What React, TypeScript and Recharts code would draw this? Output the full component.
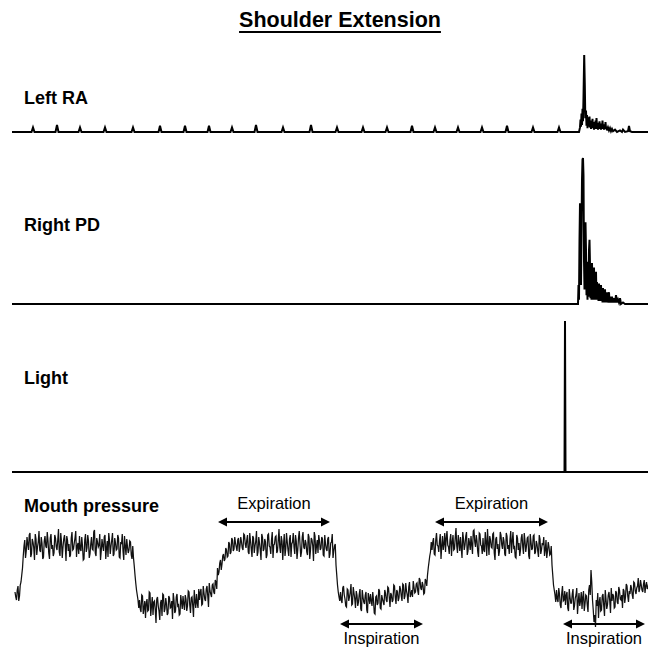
import React from 'react';
import { LineChart, Line, XAxis, YAxis, ReferenceLine } from 'recharts';

const FONT = "'Liberation Sans', Arial, sans-serif";
const TIME_END = 63.6;

// ---- Left RA (EMG, % of peak) ----
const leftRaSpikeTimes = [2.1, 4.5, 6.8, 9.3, 12.1, 14.8, 17.3, 19.7, 22.0, 24.4, 27.1, 29.9, 32.5, 35.1, 37.5, 40.0, 42.3, 44.6, 47.0, 49.5, 52.1, 54.7];
const leftRaSpikeHeights = [6, 9, 6, 6, 6, 8, 8, 8, 6, 9, 6, 9, 6, 6, 6, 8, 6, 6, 6, 8, 6, 6];
const leftRaBurst: [number, number][] = [
  [56.7, 0], [56.8, 6], [56.85, 16], [56.9, 7], [56.95, 24], [57.0, 9], [57.05, 30], [57.1, 14], [57.15, 45], [57.22, 100],
  [57.28, 62], [57.33, 18], [57.4, 28], [57.45, 8], [57.5, 22], [57.55, 5], [57.6, 19], [57.65, 7],
  [57.75, 20], [57.8, 6], [57.85, 15], [57.9, 4], [57.95, 12], [58.0, 5], [58.05, 17], [58.1, 6], [58.15, 13], [58.2, 3],
  [58.25, 11], [58.3, 5], [58.35, 15], [58.4, 4], [58.45, 18], [58.5, 6], [58.55, 12], [58.6, 3], [58.65, 10], [58.7, 4],
  [58.75, 14], [58.8, 5], [58.85, 11], [58.9, 3], [58.95, 9], [59.0, 4], [59.05, 15], [59.1, 5], [59.15, 10], [59.2, 3],
  [59.25, 8], [59.3, 4], [59.35, 13], [59.4, 4], [59.45, 7], [59.5, 2], [59.6, 6], [59.7, 2], [59.8, 5], [59.9, 1],
  [60.0, 4], [60.1, 1], [60.3, 3], [60.5, 0], [60.8, 2], [61.0, 0], [61.1, 3], [61.3, 0], [61.6, 1], [61.7, 8],
  [61.8, 1], [62.0, 0],
];

// ---- Right PD (EMG, % of peak) ----
const rightPdBurst: [number, number][] = [
  [56.6, 0], [56.65, 13], [56.7, 3], [56.75, 44], [56.8, 69], [56.85, 23], [56.9, 13], [56.95, 51], [57.0, 85], [57.05, 99],
  [57.1, 100], [57.15, 88], [57.2, 30], [57.25, 10], [57.3, 44], [57.35, 56], [57.4, 37], [57.45, 6], [57.5, 23], [57.55, 3],
  [57.6, 29], [57.65, 5], [57.7, 37], [57.75, 44], [57.8, 27], [57.85, 4], [57.9, 20], [57.95, 3], [58.0, 28], [58.05, 8],
  [58.1, 23], [58.15, 3], [58.2, 25], [58.25, 5], [58.3, 16], [58.35, 3], [58.4, 22], [58.45, 4], [58.5, 15], [58.55, 3],
  [58.6, 13], [58.65, 2], [58.7, 14], [58.75, 3], [58.8, 11], [58.85, 2], [58.9, 13], [58.95, 3], [59.0, 10], [59.05, 1],
  [59.1, 11], [59.15, 2], [59.2, 8], [59.25, 1], [59.3, 10], [59.35, 1], [59.4, 7], [59.45, 1], [59.5, 8], [59.55, 1],
  [59.6, 5], [59.7, 8], [59.75, 1], [59.8, 5], [59.9, 1], [60.0, 5], [60.1, 1], [60.2, 4], [60.3, 1], [60.4, 6],
  [60.5, 1], [60.6, 3], [60.7, 1], [60.8, 4], [60.9, 0], [61.1, 1], [61.3, 0],
];

// ---- Light (trigger) ----
const lightTimes = [0, 55.25, 55.3, 55.35, TIME_END];
const lightValues = [0, 0, 100, 0, 0];

// ---- Mouth pressure: samples every 0.15 s, plus the mid samples between them ----
const MOUTH_DT = 0.15;
const mouthOnset = [38, 30, 44, 34, 48, 62];
const mouthOnsetMid = [33, 40, 29, 45, 55, 74];
const mouthExp1 = [
  84, 72, 93, 80, 97, 76, 88, 70, 91, 83,
  99, 78, 87, 73, 94, 82, 89, 71, 96, 85,
  77, 92, 80, 101, 74, 88, 83, 95, 69, 90,
  86, 75, 98, 81, 92, 73, 87, 94, 79, 84,
  71, 96, 82, 89, 76, 93, 80, 100, 74, 88,
  85, 70, 91, 79, 95, 82, 73, 89, 84, 97,
  76, 87, 81, 92, 72, 86, 79, 94, 75, 83,
  80, 88, 71,
];
const mouthExp1Mid = [
  90, 79, 86, 95, 73, 91, 82, 96, 75, 88,
  80, 93, 71, 89, 84, 98, 77, 92, 81, 74,
  95, 83, 90, 78, 97, 72, 91, 85, 94, 79,
  73, 92, 80, 87, 99, 84, 76, 81, 93, 70,
  90, 78, 95, 72, 86, 81, 98, 77, 92, 83,
  96, 79, 84, 93, 71, 89, 97, 76, 90, 74,
  92, 80, 95, 73, 88, 96, 70, 84, 91, 77,
  89, 75, 84,
];
const mouthDrop1 = [72, 55, 40, 30];
const mouthDrop1Mid = [64, 47, 35, 22];
const mouthInsp1 = [
  30, 18, 34, 22, 12, 31, 20, 37, 24, 15,
  29, 7, 33, 19, 27, 14, 35, 21, 26, 17,
  32, 23, 11, 30, 19, 36, 25, 16, 28, 34,
  20, 31, 24, 38, 17, 33, 13, 29, 36, 22,
  30, 41, 26, 37, 29, 44, 23, 39, 33, 46,
  36, 48,
];
const mouthInsp1Mid = [
  21, 35, 16, 29, 27, 19, 38, 14, 33, 28,
  20, 31, 24, 10, 30, 36, 18, 32, 15, 34,
  22, 29, 37, 17, 33, 24, 15, 35, 21, 26,
  35, 19, 39, 25, 32, 24, 40, 22, 27, 41,
  38, 25, 44, 31, 41, 34, 47, 36, 45, 38,
  50, 41,
];
const mouthRise1 = [62, 58, 70, 66, 76, 71, 80, 74, 86, 78, 90, 81, 87, 79, 92, 84, 88, 80, 95];
const mouthRise1Mid = [55, 67, 60, 74, 69, 82, 73, 88, 76, 92, 79, 93, 83, 90, 78, 93, 82, 96, 86];
const mouthExp2 = [
  82, 95, 76, 89, 73, 92, 84, 99, 78, 87,
  70, 93, 81, 88, 75, 96, 83, 90, 72, 86,
  94, 79, 101, 77, 89, 85, 74, 97, 80, 91,
  73, 88, 83, 95, 71, 92, 86, 78, 98, 81,
  87, 75, 93, 80, 90, 69, 94, 84, 77, 89,
  82, 91, 74, 86, 79, 93, 76, 88, 72, 84,
];
const mouthExp2Mid = [
  90, 78, 97, 81, 94, 77, 89, 74, 93, 80,
  96, 79, 91, 72, 95, 84, 76, 98, 85, 93,
  77, 90, 83, 94, 70, 96, 81, 88, 74, 95,
  86, 97, 76, 89, 80, 99, 73, 93, 83, 90,
  78, 96, 71, 92, 84, 98, 76, 90, 95, 80,
  93, 75, 95, 81, 91, 72, 87, 96, 79, 86,
];
const mouthDrop2 = [65, 45, 33];
const mouthDrop2Mid = [55, 38, 29];
const mouthInsp2 = [
  38, 27, 44, 31, 23, 40, 33, 46, 26, 37,
  22, 35, 28, 41, 19, 33, 26, 38, 17, 32,
  36, 24, 30, 16, 34, 27, 39, 21, 31, 25,
  37, 28, 42, 23, 35, 30, 44, 26, 38, 32,
  41, 29, 45, 34, 39, 27, 48, 36, 33, 43,
  38, 47, 35, 50, 40, 45, 37, 49,
];
const mouthInsp2Mid = [
  30, 42, 35, 24, 41, 29, 38, 25, 43, 31,
  39, 24, 36, 21, 40, 28, 35, 20, 37, 26,
  29, 38, 17, 33, 25, 41, 22, 35, 28, 40,
  30, 43, 33, 37, 28, 45, 33, 40, 29, 44,
  34, 46, 31, 47, 35, 43, 33, 40, 49, 37,
  46, 39, 52, 42, 48, 36, 51, 44,
];
const mouthRise2 = [55, 68, 78];
const mouthRise2Mid = [62, 74, 88];
const mouthExp3 = [
  80, 92, 75, 97, 84, 89, 71, 94, 86, 78,
  99, 83, 90, 74, 95, 81, 102, 77, 88, 93,
  72, 91, 85, 98, 79, 87, 94, 76, 100, 83,
  89, 73, 96, 84, 92, 78, 88, 101, 75, 90,
  82, 97, 70, 93, 86, 79, 95, 81, 89, 74,
  94, 85, 91, 77, 98, 83, 72, 92, 87, 80,
  96, 76, 89, 84, 93, 71, 88, 82, 95, 78,
  86, 73, 91, 80, 85, 74, 90, 79, 83, 76,
];
const mouthExp3Mid = [
  88, 76, 90, 85, 78, 96, 84, 80, 97, 92,
  85, 76, 96, 88, 80, 93, 84, 95, 79, 82,
  98, 80, 94, 75, 92, 80, 85, 99, 88, 95,
  78, 97, 85, 76, 80, 98, 74, 87, 94, 83,
  96, 77, 91, 81, 74, 98, 85, 93, 76, 97,
  81, 76, 99, 89, 82, 73, 95, 80, 74, 92,
  83, 97, 78, 92, 74, 96, 80, 94, 76, 89,
  79, 95, 76, 87, 93, 80, 72, 88, 75, 84,
];
const mouthDrop3 = [65, 45, 35];
const mouthDrop3Mid = [55, 40, 28];
const mouthInsp3 = [
  40, 28, 36, 22, 44, 30, 25, 38, 19, 33,
  27, 41, 24, 35, 16, 37, 29, 21, 39, 26,
  34, 18, 45, 60, 30, 8, 3, 24, 12, 33,
  20, 36, 14, 31, 25, 38, 17, 29, 34, 23,
  37, 26, 40, 30, 22, 39, 33, 44, 28, 36,
  42, 31, 47, 36, 44, 38, 50, 40, 46, 37,
  48, 43,
];
const mouthInsp3Mid = [
  31, 42, 25, 37, 29, 39, 35, 22, 41, 27,
  36, 20, 32, 42, 28, 24, 38, 33, 19, 35,
  25, 40, 35, 48, 20, 15, 30, 37, 28, 19,
  34, 24, 40, 21, 35, 29, 42, 36, 22, 39,
  28, 43, 31, 35, 41, 27, 46, 34, 39, 45,
  35, 48, 39, 42, 52, 41, 45, 38, 50, 44,
  41, 47,
];
const mouthSegmentStarts = [0.3, 1.2, 12.15, 12.75, 20.55, 23.4, 32.4, 32.85, 41.55, 42.0, 54.0, 54.45];
const mouthSegments = [mouthOnset, mouthExp1, mouthDrop1, mouthInsp1, mouthRise1, mouthExp2, mouthDrop2, mouthInsp2, mouthRise2, mouthExp3, mouthDrop3, mouthInsp3];
const mouthSegmentsMid = [mouthOnsetMid, mouthExp1Mid, mouthDrop1Mid, mouthInsp1Mid, mouthRise1Mid, mouthExp2Mid, mouthDrop2Mid, mouthInsp2Mid, mouthRise2Mid, mouthExp3Mid, mouthDrop3Mid, mouthInsp3Mid];

// ---- Breathing phase annotations ----
const phaseLabels = ['Expiration', 'Inspiration', 'Expiration', 'Inspiration'];
const phaseStart = [20.6, 32.8, 42.3, 55.1];
const phaseEnd = [31.8, 41.1, 53.6, 63.3];

// ---- build tables ----
const r = (n: number) => Math.round(n * 1000) / 1000;

const leftRaData = (() => {
  const pts: [number, number][] = [[0, 0], [TIME_END, 0]];
  leftRaSpikeTimes.forEach((t, i) => {
    pts.push([r(t - 0.15), 0], [t, leftRaSpikeHeights[i]], [r(t + 0.15), 0]);
  });
  leftRaBurst.forEach((p) => pts.push(p));
  pts.sort((a, b) => a[0] - b[0]);
  return pts.map(([t, v]) => ({ t, v }));
})();

const rightPdData = [[0, 0] as [number, number], ...rightPdBurst, [TIME_END, 0] as [number, number]].map(([t, v]) => ({ t, v }));
const lightData = lightTimes.map((t, i) => ({ t, v: lightValues[i] }));
const mouthData = mouthSegments.flatMap((seg, s) =>
  seg.flatMap((v, i) => {
    const t = mouthSegmentStarts[s] + i * MOUTH_DT;
    return [
      { t: r(t), v },
      { t: r(t + MOUTH_DT / 2), v: mouthSegmentsMid[s][i] },
    ];
  })
);

const MARGIN_X = { left: 12, right: 2 };

function Trace({ data, top, height, mTop, mBottom, domain, strokeWidth, stroke, children }: any) {
  return (
    <div style={{ position: 'absolute', left: 0, top }}>
      <LineChart width={650} height={height} data={data} margin={{ top: mTop, bottom: mBottom, ...MARGIN_X }}>
        <XAxis dataKey="t" type="number" domain={[0, TIME_END]} hide allowDataOverflow />
        <YAxis type="number" domain={domain} hide />
        <Line dataKey="v" type="linear" dot={false} stroke={stroke} strokeWidth={strokeWidth} isAnimationActive={false} />
        {children}
      </LineChart>
    </div>
  );
}

const makeArrow = (label: string, above: boolean) => (props: any) => {
  const { x1, y1, x2 } = props;
  const head = 9;
  const half = 4.5;
  const cx = (x1 + x2) / 2;
  return (
    <g>
      <line x1={x1 + head - 1} y1={y1} x2={x2 - head + 1} y2={y1} stroke="#000" strokeWidth={2} />
      <polygon points={`${x1},${y1} ${x1 + head},${y1 - half} ${x1 + head},${y1 + half}`} fill="#000" />
      <polygon points={`${x2},${y1} ${x2 - head},${y1 - half} ${x2 - head},${y1 + half}`} fill="#000" />
      <text x={cx} y={above ? y1 - 13 : y1 + 20} textAnchor="middle" fontFamily={FONT} fontSize={16.5} fill="#000">
        {label}
      </text>
    </g>
  );
};

export default function App() {
  return (
    <div style={{ position: 'absolute', left: 0, top: 0, width: 650, height: 648, background: '#fff', overflow: 'hidden', fontFamily: FONT }}>
      <div
        style={{
          position: 'absolute', left: 30, top: 8, width: 620, textAlign: 'center', fontSize: 21.5, lineHeight: '25px',
          fontWeight: 'bold', textDecoration: 'underline', textUnderlineOffset: '4px', textDecorationThickness: '2px', color: '#000',
        }}
      >
        Shoulder Extension
      </div>

      <Trace data={leftRaData} top={40} height={100} mTop={15} mBottom={8} domain={[0, 100]} strokeWidth={2} stroke="#000" />
      <Trace data={rightPdData} top={150} height={160} mTop={8} mBottom={6} domain={[0, 100]} strokeWidth={2} stroke="#000" />
      <Trace data={lightData} top={315} height={165} mTop={6} mBottom={8} domain={[0, 100]} strokeWidth={2} stroke="#000" />
      <Trace data={mouthData} top={490} height={158} mTop={30} mBottom={18} domain={[0, 110]} strokeWidth={1.25} stroke="#111">
        {phaseLabels.map((lab, i) => {
          const level = lab === 'Expiration' ? 108 : 6;
          return (
            <ReferenceLine
              key={i}
              segment={[{ x: phaseStart[i], y: level }, { x: phaseEnd[i], y: level }]}
              shape={makeArrow(lab, lab === 'Expiration')}
            />
          );
        })}
      </Trace>

      <svg width={650} height={648} style={{ position: 'absolute', left: 0, top: 0, pointerEvents: 'none' }}>
        <g fontFamily={FONT} fontWeight="bold" fontSize={18} fill="#000">
          <text x={24} y={104}>Left RA</text>
          <text x={24} y={231}>Right PD</text>
          <text x={24} y={384}>Light</text>
          <text x={24} y={512}>Mouth pressure</text>
        </g>
      </svg>
    </div>
  );
}
